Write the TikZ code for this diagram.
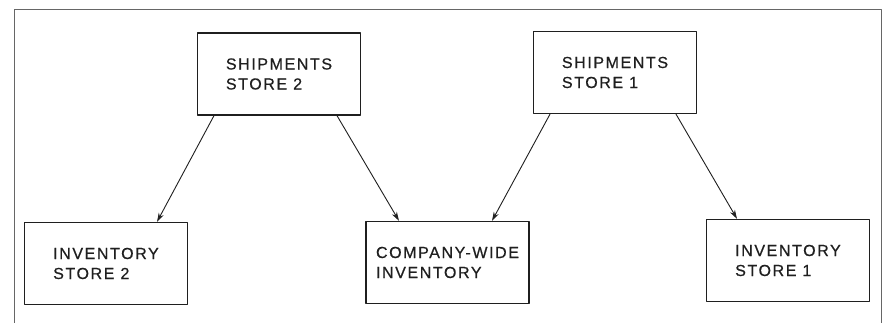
\documentclass[tikz,border=0pt]{standalone}
\usepackage{fontspec}
\newfontfamily\lettering{Liberation Sans}[LetterSpace=10,FakeBold=0.6]
\usetikzlibrary{arrows.meta}
\tikzset{
	filebox/.style={draw,line width=1.3pt,minimum width=163pt,minimum height=82pt,align=left,inner sep=0pt},
	feeds/.style={-{Stealth[length=9pt,width=5.5pt]},line width=0.9pt}
}
\begin{document}
\begin{tikzpicture}[x=1pt,y=1pt,line join=round,line cap=round,color={black!88},font=\lettering\fontsize{16}{20}\selectfont]
	\useasboundingbox[fill=white] (0,0) rectangle (883,323);
	\draw[line width=0.9pt,black!60] (14,0)--(14,314)--(881,314)--(881,0);
	% shipment files
	\node[filebox] (s2) at (279,249) {SHIPMENTS\\STORE 2};
	\node[filebox] (s1) at (615,250.5) {SHIPMENTS\\STORE 1};
	% inventory files
	\node[filebox] (inv2) at (106,59.5) {INVENTORY\\STORE 2};
	\node[filebox] (cw) at (447.5,60.5) {COMPANY-WIDE\\INVENTORY};
	\node[filebox] (inv1) at (788,62.5) {INVENTORY\\STORE 1};
	\draw[feeds] ([xshift=-65pt]s2.south)--([xshift=51pt]inv2.north);
	\draw[feeds] ([xshift=58pt]s2.south)--([xshift=-48.5pt]cw.north);
	\draw[feeds] ([xshift=-65pt]s1.south)--([xshift=44.5pt]cw.north);
	\draw[feeds] ([xshift=61pt]s1.south)--([xshift=-51pt]inv1.north);
\end{tikzpicture}
\end{document}
